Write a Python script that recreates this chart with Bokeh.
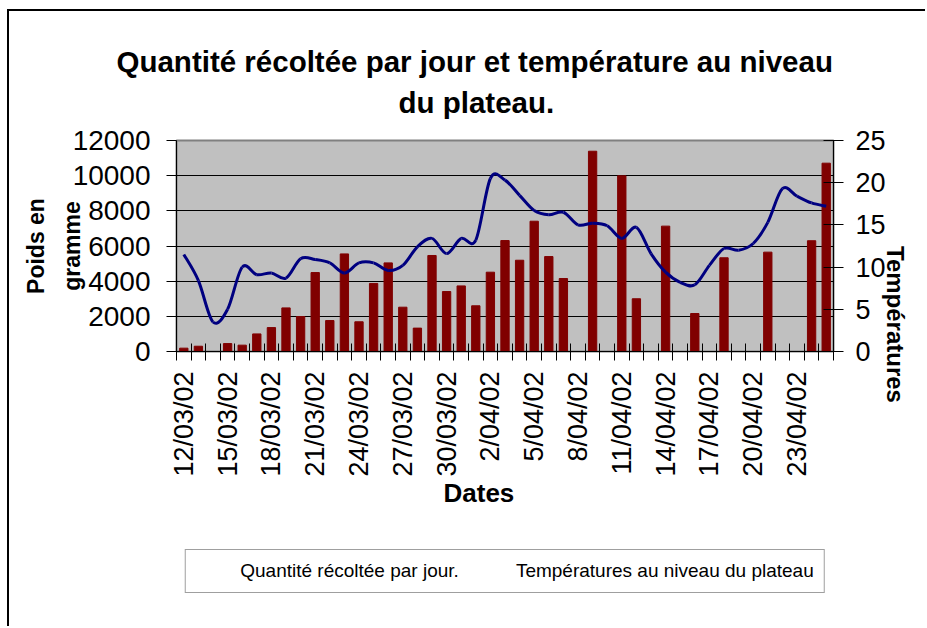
from bokeh.plotting import figure
from bokeh.layouts import column
from bokeh.models import (Range1d, LinearAxis, FixedTicker, Legend, LegendItem, Title)
from bokeh.embed import file_html
from bokeh.resources import INLINE
import math

# ---- data ----
dates = ["12/03/02", "13/03/02", "14/03/02", "15/03/02", "16/03/02", "17/03/02", "18/03/02",
         "19/03/02", "20/03/02", "21/03/02", "22/03/02", "23/03/02", "24/03/02", "25/03/02",
         "26/03/02", "27/03/02", "28/03/02", "29/03/02", "30/03/02", "31/03/02",
         "1/04/02", "2/04/02", "3/04/02", "4/04/02", "5/04/02", "6/04/02", "7/04/02",
         "8/04/02", "9/04/02", "10/04/02", "11/04/02", "12/04/02", "13/04/02", "14/04/02",
         "15/04/02", "16/04/02", "17/04/02", "18/04/02", "19/04/02", "20/04/02", "21/04/02",
         "22/04/02", "23/04/02", "24/04/02", "25/04/02"]
quantite = [190, 300, 0, 450, 360, 1000, 1360, 2480, 1990, 4490,
            1760, 5550, 1690, 3870, 5040, 2520, 1330, 5460, 3410, 3730,
            2600, 4510, 6310, 5190, 7410, 5400, 4150, 0, 11390, 0,
            9990, 3000, 0, 7130, 0, 2160, 0, 5330, 0, 0,
            5650, 0, 0, 6300, 10710]
temperature = [11.5, 8.4, 3.5, 5.0, 10.0, 9.1, 9.3, 8.7, 11.0, 10.9,
               10.5, 9.3, 10.5, 10.5, 9.6, 10.2, 12.4, 13.4, 11.6, 13.4,
               13.2, 20.5, 20.3, 18.5, 16.7, 16.2, 16.5, 15.0, 15.2, 14.9,
               13.4, 14.7, 11.6, 9.4, 8.2, 7.9, 10.2, 12.2, 12.0, 12.8,
               15.3, 19.3, 18.4, 17.6, 17.2]
label_step = 3
left_ticks = [0, 2000, 4000, 6000, 8000, 10000, 12000]
right_ticks = [0, 5, 10, 15, 20, 25]
title_line1 = "Quantité récoltée par jour et température au niveau"
title_line2 = "du plateau."
legend_labels = ["Quantité récoltée par jour.", "Températures au niveau du plateau"]

FONT = "Liberation Sans"
BAR_COLOR = "#800000"
LINE_COLOR = "#000080"
W = 916
x = list(range(len(dates)))

# ---------------- main chart ----------------
p = figure(width=W, height=505, frame_height=211, output_backend="svg", toolbar_location=None,
           x_range=Range1d(-0.5, len(dates) - 0.5), y_range=Range1d(0, 12000),
           min_border_left=167, min_border_right=92, min_border_top=129, min_border_bottom=165)
p.background_fill_color = "#C0C0C0"
p.border_fill_color = "white"
p.outline_line_color = "#808080"
p.outline_line_width = 2
p.extra_y_ranges = {"temp": Range1d(0, 25)}

p.vbar(x=x, top=quantite, width=0.57, fill_color=BAR_COLOR, line_color=BAR_COLOR)

# smoothed temperature curve: Bezier segments through the data points
n = len(temperature)
x0s, y0s, x1s, y1s, cx0s, cy0s, cx1s, cy1s = [], [], [], [], [], [], [], []
for i in range(n - 1):
    pm = max(i - 1, 0)
    pn = min(i + 2, n - 1)
    x0s.append(x[i]); y0s.append(temperature[i])
    x1s.append(x[i + 1]); y1s.append(temperature[i + 1])
    cx0s.append(x[i] + (x[i + 1] - x[pm]) / 6.0)
    cy0s.append(temperature[i] + (temperature[i + 1] - temperature[pm]) / 6.0)
    cx1s.append(x[i + 1] - (x[pn] - x[i]) / 6.0)
    cy1s.append(temperature[i + 1] - (temperature[pn] - temperature[i]) / 6.0)
p.bezier(x0=x0s, y0=y0s, x1=x1s, y1=y1s, cx0=cx0s, cy0=cy0s, cx1=cx1s, cy1=cy1s,
         line_color=LINE_COLOR, line_width=3, y_range_name="temp")

p.xgrid.visible = False
p.ygrid.ticker = FixedTicker(ticks=left_ticks)
p.ygrid.grid_line_color = "black"
p.ygrid.grid_line_width = 1

# x axis
xa = p.xaxis[0]
tick_idx = list(range(0, len(dates), label_step))
xa.ticker = FixedTicker(ticks=tick_idx, minor_ticks=[i - 0.5 for i in range(len(dates) + 1)])
xa.major_label_overrides = {i: dates[i] for i in tick_idx}
xa.major_label_orientation = math.pi / 2
xa.major_tick_line_color = None
xa.major_tick_out = 9
xa.major_tick_in = 0
xa.minor_tick_line_color = "black"
xa.minor_tick_in = 8
xa.minor_tick_out = 9
xa.major_label_standoff = 11
xa.major_label_text_font = FONT
xa.major_label_text_font_size = "27px"
xa.major_label_text_color = "black"
xa.axis_line_color = "black"

# left axis
ya = p.yaxis[0]
ya.ticker = FixedTicker(ticks=left_ticks)
ya.minor_tick_line_color = None
ya.major_tick_out = 10
ya.major_tick_in = 0
ya.major_label_standoff = 16
ya.major_label_text_font = FONT
ya.major_label_text_font_size = "28px"
ya.major_label_text_color = "black"
ya.axis_line_color = "black"
ya.axis_label = "Poids en\ngramme"
ya.axis_label_text_font = FONT
ya.axis_label_text_font_style = "bold"
ya.axis_label_text_font_size = "23px"
ya.axis_label_text_color = "black"
ya.axis_label_text_line_height = 1.38
ya.axis_label_standoff = -15

# right axis
ra = LinearAxis(y_range_name="temp", ticker=FixedTicker(ticks=right_ticks),
                axis_label="Températures")
ra.minor_tick_line_color = None
ra.major_tick_out = 10
ra.major_tick_in = 10
ra.major_label_standoff = 12
ra.major_label_text_font = FONT
ra.major_label_text_font_size = "27px"
ra.major_label_text_color = "black"
ra.axis_line_color = "black"
ra.axis_label_text_font = FONT
ra.axis_label_text_font_style = "bold"
ra.axis_label_text_font_size = "24px"
ra.axis_label_text_color = "black"
ra.axis_label_standoff = 7
ra.axis_label_orientation = -math.pi / 2
p.add_layout(ra, "right")

# chart title: two lines, each centred on the chart area
p.add_layout(Title(text=title_line2, align="left", offset=222, vertical_align="middle",
                   standoff=42, text_font=FONT, text_font_style="bold",
                   text_font_size="29.5px", text_color="black"), "above")
p.add_layout(Title(text=title_line1, align="left", offset=-60, vertical_align="middle",
                   standoff=-31, text_font=FONT, text_font_style="bold",
                   text_font_size="29.5px", text_color="black"), "above")

# x axis title
p.add_layout(Title(text="Dates", align="left", offset=267, vertical_align="middle",
                   standoff=-5, text_font=FONT, text_font_style="bold",
                   text_font_size="26px", text_color="black"), "below")

# ---------------- legend strip ----------------
lf = figure(width=W, height=110, output_backend="svg", toolbar_location=None,
            x_range=Range1d(0, 1), y_range=Range1d(0, 1),
            x_axis_type=None, y_axis_type=None, min_border=0)
lf.grid.visible = False
lf.outline_line_color = None
lf.border_fill_color = "white"
lf.background_fill_color = "white"
key_bar = lf.vbar(x=[], top=[], width=0.5, fill_color=BAR_COLOR, line_color=BAR_COLOR)
key_line = lf.line(x=[], y=[], line_color=LINE_COLOR, line_width=3)

legend = Legend(items=[LegendItem(label=legend_labels[0], renderers=[key_bar]),
                       LegendItem(label=legend_labels[1], renderers=[key_line])],
                orientation="horizontal", location="center")
legend.label_text_font = FONT
legend.label_text_font_size = "19px"
legend.label_text_color = "black"
legend.glyph_width = 40
legend.glyph_height = 15
legend.label_standoff = 5
legend.spacing = 12
legend.padding = 10
legend.border_line_color = "#404040"
legend.border_line_width = 1
legend.background_fill_color = "white"
legend.background_fill_alpha = 1
legend.margin = 0
lf.add_layout(legend, "center")

layout = column(p, lf, spacing=0)
layout.styles = {"margin-left": "7px", "margin-top": "9px",
                 "border-top": "2px solid black", "border-left": "2px solid black"}

open("out.html", "w").write(file_html(layout, INLINE))
